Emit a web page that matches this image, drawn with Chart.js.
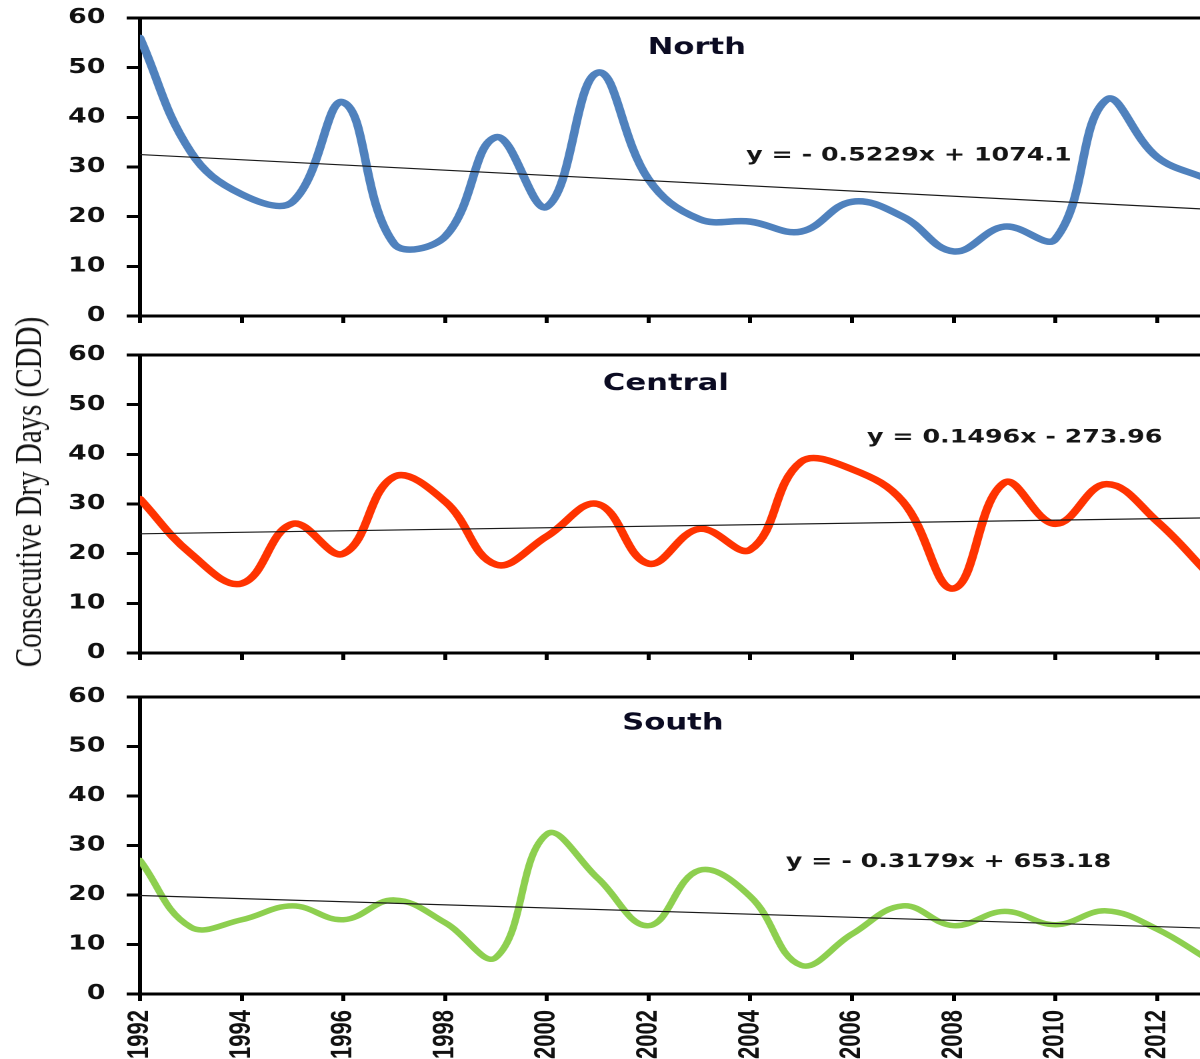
<!DOCTYPE html>
<html><head><meta charset="utf-8">
<script src="https://cdn.jsdelivr.net/npm/chart.js@4.4.1/dist/chart.umd.min.js"></script>
<style>
html,body{margin:0;padding:0;background:#fff;overflow:hidden;width:1200px;height:1059px;}
#wrap{position:absolute;left:0;top:0;width:912px;height:1059px;transform:scaleX(1.3333);transform-origin:0 0;}
canvas{position:absolute;left:0;}
#ytitle{position:absolute;left:21px;top:492px;transform:translate(-50%,-50%) rotate(-90deg);font-family:"Liberation Serif","Times New Roman",serif;font-size:29px;line-height:1;white-space:nowrap;color:#111;}
</style></head><body>
<div id="wrap">
<canvas id="cN"></canvas><canvas id="cC"></canvas><canvas id="cS"></canvas>
<div id="ytitle">Consecutive Dry Days (CDD)</div>
</div>
<script>
const years = [1992,1993,1994,1995,1996,1997,1998,1999,2000,2001,2002,2003,2004,2005,2006,2007,2008,2009,2010,2011,2012,2013];
const northCDD   = [56, 33, 24.5, 23, 43, 14.5, 16, 36, 22, 49, 27.5, 19.5, 19, 17, 23, 20, 13, 18, 15.5, 43.5, 32, 27.5];
const centralCDD = [31, 20, 14, 26, 20, 35.5, 30.5, 17.8, 23.5, 30, 18, 25, 20.8, 38.5, 37, 30.5, 13, 34.3, 26, 34, 26.5, 16];
const southCDD   = [27, 13.5, 15, 17.8, 15, 19, 14.4, 7.4, 32.3, 23.4, 13.8, 25, 19.7, 5.8, 12.1, 17.8, 13.8, 16.7, 14, 16.8, 13.1, 7];
const trendYears   = [1992, 2013];
const northTrend   = [32.5, 21.5];
const centralTrend = [24.0, 27.2];
const southTrend   = [19.9, 13.3];
const yTickLabels = ['0','10','20','30','40','50','60'];
const xTickLabels = ['1992','1994','1996','1998','2000','2002','2004','2006','2008','2010','2012'];
const panelTitles = ['North','Central','South'];
const trendEquations = ['y = - 0.5229x + 1074.1','y = 0.1496x - 273.96','y = - 0.3179x + 653.18'];

const panelText = {
  id:'panelText',
  afterDatasetsDraw(chart, args, o){
    const {ctx, scales:{x,y}} = chart;
    ctx.save();
    ctx.textAlign='center'; ctx.textBaseline='middle';
    ctx.font='bold 23px "DejaVu Sans"';
    ctx.fillStyle='#0b0b22';
    ctx.fillText(o.title, x.getPixelForValue(o.titleAt[0]), y.getPixelForValue(o.titleAt[1]));
    ctx.font='bold 19px "DejaVu Sans"';
    ctx.fillStyle='#151515';
    ctx.fillText(o.eq, x.getPixelForValue(o.eqAt[0]), y.getPixelForValue(o.eqAt[1]));
    ctx.restore();
  }
};

function makeChart(id, top, height, xHeight, series, trend, color, lw, idx, titleAt, eqAt, showX){
  const el=document.getElementById(id);
  el.width=912; el.height=height; el.style.top=top+'px';
  return new Chart(el,{
    type:'line',
    data:{datasets:[
      {data:trendYears.map((yr,i)=>({x:yr,y:trend[i]})), borderColor:'#1a1a1a', borderWidth:1.2, tension:0, pointRadius:0},
      {data:years.map((yr,i)=>({x:yr,y:series[i]})), borderColor:color, borderWidth:lw, tension:0.4, pointRadius:0, borderCapStyle:'round', borderJoinStyle:'round'}
    ]},
    plugins:[panelText],
    options:{
      responsive:false, devicePixelRatio:2, animation:false, events:[],
      layout:{padding:{top:0,left:0,right:6,bottom:0}},
      plugins:{legend:{display:false}, tooltip:{enabled:false},
        panelText:{title:panelTitles[idx], eq:trendEquations[idx], titleAt:titleAt, eqAt:eqAt}},
      scales:{
        x:{type:'linear', min:1992, max:2013,
          afterFit(s){s.height=xHeight;},
          border:{display:true,color:'#000',width:3},
          grid:{drawOnChartArea:false,drawTicks:true,tickLength:7,tickWidth:3,tickColor:'#000'},
          ticks:{display:showX, stepSize:2, includeBounds:false, autoSkip:false, maxRotation:90, minRotation:90, padding:9, color:'#111',
            font:{family:'"Liberation Sans", Arial, sans-serif', weight:'bold', size:22},
            callback:(v)=>{const k=(v-1992)/2; return xTickLabels[k]!==undefined?xTickLabels[k]:'';}}},
        y:{min:0, max:60,
          afterFit(s){s.width=105;},
          border:{display:true,color:'#000',width:3},
          grid:{drawOnChartArea:true, color:(c)=> (c.tick && c.tick.value===60)?'#000':'rgba(0,0,0,0)', lineWidth:3,
            drawTicks:true, tickLength:10, tickWidth:3, tickColor:'#000'},
          ticks:{stepSize:10, padding:16, color:'#111', font:{family:'"DejaVu Sans"', weight:'bold', size:20},
            callback:(v)=>yTickLabels[Math.round(v/10)]}}
      }
    }
  });
}

makeChart('cN', -10, 354, 27, northCDD, northTrend, '#4F81BD', 6.5, 0, [2002.95,54.0], [2007.12,32.3], false);
makeChart('cC', 327, 354, 28, centralCDD, centralTrend, '#FF3300', 6.5, 1, [2002.34,54.2], [2009.2,43.4], false);
makeChart('cS', 669, 390, 65, southCDD, southTrend, '#8DCF4F', 5.5, 2, [2002.48,54.6], [2007.9,26.7], true);
</script>
</body></html>
